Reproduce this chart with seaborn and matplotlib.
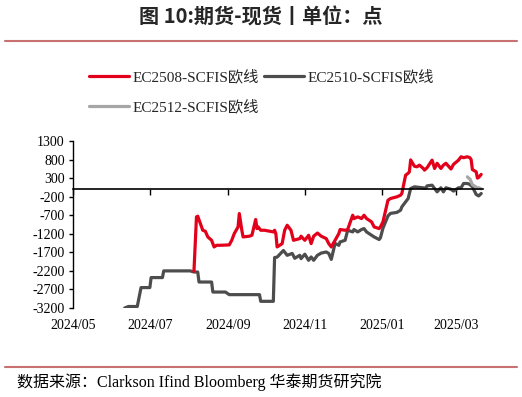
import matplotlib
matplotlib.use("Agg")
import matplotlib.pyplot as plt
import matplotlib.dates as mdates
from matplotlib.lines import Line2D
import pandas as pd
import seaborn as sns

# ---------------- data ----------------
s2510_dates = ["2024-06-11","2024-06-14","2024-06-21","2024-06-24","2024-07-01","2024-07-02",
               "2024-07-11","2024-07-12","2024-08-02","2024-08-05","2024-08-08","2024-08-09",
               "2024-08-19","2024-08-20","2024-08-30","2024-09-02","2024-09-26","2024-09-27",
               "2024-09-30","2024-10-07","2024-10-08","2024-10-10","2024-10-15","2024-10-18",
               "2024-10-22","2024-10-24","2024-10-28","2024-10-29","2024-11-01","2024-11-04",
               "2024-11-06","2024-11-08","2024-11-11","2024-11-14","2024-11-18","2024-11-20",
               "2024-11-22","2024-11-25","2024-11-28","2024-11-29","2024-12-03","2024-12-05",
               "2024-12-09","2024-12-10","2024-12-13","2024-12-16","2024-12-18","2024-12-20",
               "2024-12-24","2024-12-26","2024-12-30","2024-12-31","2025-01-02","2025-01-06",
               "2025-01-08","2025-01-13","2025-01-16","2025-01-17","2025-01-21","2025-01-22",
               "2025-01-24","2025-01-27","2025-02-05","2025-02-06","2025-02-10","2025-02-12",
               "2025-02-14","2025-02-17","2025-02-19","2025-02-21","2025-02-25","2025-02-27",
               "2025-03-03","2025-03-05","2025-03-07","2025-03-10","2025-03-12","2025-03-14",
               "2025-03-17","2025-03-19","2025-03-21"]
s2510_vals = [-3200,-3160,-3160,-2650,-2650,-2380,
              -2380,-2200,-2200,-2230,-2230,-2500,
              -2500,-2770,-2770,-2840,-2840,-3020,
              -3020,-3020,-1840,-1830,-1650,-1780,
              -1730,-1860,-1780,-1870,-1750,-1915,
              -1825,-1915,-1780,-1720,-1690,-1730,
              -1890,-1460,-1510,-1420,-1375,-1105,
              -1150,-1085,-1150,-1085,-1060,-1150,
              -1240,-1285,-1355,-1310,-1050,-720,
              -650,-625,-565,-475,-295,-250,
              20,65,30,90,110,20,
              -70,40,-70,40,0,-50,
              40,40,155,155,130,65,
              -140,-180,-115]

s2508_dates = ["2024-08-05","2024-08-07","2024-08-08","2024-08-12","2024-08-14","2024-08-16",
               "2024-08-19","2024-08-21","2024-08-23","2024-08-26","2024-09-02","2024-09-04",
               "2024-09-06","2024-09-09","2024-09-10","2024-09-12","2024-09-13","2024-09-18",
               "2024-09-20","2024-09-23","2024-09-24","2024-09-25","2024-09-27","2024-09-30",
               "2024-10-07","2024-10-08","2024-10-09","2024-10-10","2024-10-14","2024-10-15",
               "2024-10-16","2024-10-18","2024-10-21","2024-10-23","2024-10-28","2024-10-29",
               "2024-11-01","2024-11-04","2024-11-06","2024-11-08","2024-11-11","2024-11-14",
               "2024-11-18","2024-11-20","2024-11-22","2024-11-25","2024-11-28","2024-11-29",
               "2024-12-03","2024-12-05","2024-12-09","2024-12-10","2024-12-13","2024-12-16",
               "2024-12-18","2024-12-20","2024-12-24","2024-12-26","2024-12-30","2024-12-31",
               "2025-01-02","2025-01-06","2025-01-08","2025-01-13","2025-01-16","2025-01-17",
               "2025-01-20","2025-01-22","2025-01-23","2025-01-24","2025-01-27","2025-01-29",
               "2025-01-31","2025-02-03","2025-02-04","2025-02-06","2025-02-07","2025-02-10",
               "2025-02-12","2025-02-14","2025-02-17","2025-02-19","2025-02-21","2025-02-25",
               "2025-02-27","2025-03-03","2025-03-05","2025-03-07","2025-03-10","2025-03-12",
               "2025-03-13","2025-03-14","2025-03-17","2025-03-18","2025-03-19","2025-03-21"]
s2508_vals = [-2210,-745,-726,-1105,-1130,-1285,
              -1375,-1555,-1510,-1510,-1500,-1375,
              -1195,-1015,-655,-1105,-1285,-1265,
              -1240,-815,-1060,-1015,-1105,-1105,
              -1150,-1105,-1195,-1555,-1465,-1285,
              -1105,-970,-1105,-1375,-1330,-1265,
              -1375,-1240,-1465,-1265,-1180,-1265,
              -1330,-1465,-1555,-1375,-1195,-1085,
              -1105,-1085,-700,-790,-745,-790,
              -700,-790,-880,-1015,-1060,-1015,
              -880,-295,-250,-205,-160,-115,
              380,430,470,790,620,605,
              650,560,515,580,630,785,
              560,700,560,650,700,545,
              670,785,875,850,875,850,
              800,530,470,300,320,400]

s2512_dates = ["2025-03-10","2025-03-11","2025-03-12","2025-03-13","2025-03-14",
               "2025-03-17","2025-03-18","2025-03-19","2025-03-21"]
s2512_vals = [335,300,280,200,120,60,20,40,10]

labels = ["EC2508-SCFIS欧线", "EC2510-SCFIS欧线", "EC2512-SCFIS欧线"]
colors = ["#E2001A", "#4D4D4D", "#A6A6A6"]

yticks = list(range(-3200, 1301, 500))
xtick_dates = ["2024-05-01","2024-07-01","2024-09-01","2024-11-01","2025-01-01","2025-03-01"]
xtick_labels = ["2024/05","2024/07","2024/09","2024/11","2025/01","2025/03"]

# ---------------- style ----------------
sns.set_style("ticks")
plt.rcParams["font.family"] = ["Liberation Serif", "Noto Sans CJK SC"]
plt.rcParams["axes.unicode_minus"] = False

W, H = 522, 397
fig = plt.figure(figsize=(W/100, H/100), dpi=100)
ax = fig.add_axes([73/W, 1-308/H, 410/W, 167/H])

sns.lineplot(x=pd.to_datetime(s2510_dates), y=s2510_vals, ax=ax, color=colors[1],
             lw=2.3, label=labels[1], legend=False)
sns.lineplot(x=pd.to_datetime(s2508_dates), y=s2508_vals, ax=ax, color=colors[0],
             lw=2.3, label=labels[0], legend=False)
sns.lineplot(x=pd.to_datetime(s2512_dates), y=s2512_vals, ax=ax, color=colors[2],
             lw=2.3, label=labels[2], legend=False)

ax.set_xlabel("")
ax.set_ylabel("")
ax.set_ylim(-3200, 1300)
ax.set_yticks(yticks)
ax.set_yticklabels([str(v) for v in yticks])
ax.set_xlim(pd.Timestamp("2024-05-01"), pd.Timestamp("2025-03-22 10:00"))
ax.set_xticks(mdates.date2num(pd.to_datetime(xtick_dates)))

for s in ["top", "right"]:
    ax.spines[s].set_visible(False)
ax.spines["bottom"].set_position(("data", 0))
ax.spines["bottom"].set_color("black")
ax.spines["bottom"].set_linewidth(1.2)
ax.spines["left"].set_color("black")
ax.spines["left"].set_linewidth(1.0)
ax.tick_params(axis="x", direction="out", length=4, width=1, color="black",
               labelbottom=False, bottom=True)
ax.tick_params(axis="y", direction="out", length=3, width=1, color="black",
               labelsize=10, labelcolor="black", pad=3, left=True)

for d, lbl in zip(xtick_dates, xtick_labels):
    ax.text(mdates.date2num(pd.Timestamp(d)), -0.102, lbl, transform=ax.get_xaxis_transform(),
            ha="center", va="center", fontsize=10, color="black")

# legend
handles, labs = ax.get_legend_handles_labels()
hmap = dict(zip(labs, handles))
order = [labels[0], labels[2], labels[1]]
fig.legend([hmap[l] for l in order], order, loc="upper left",
           bbox_to_anchor=(89/W, 1-70/H), ncol=2, frameon=False, fontsize=11,
           handlelength=2.6, handletextpad=0.28, columnspacing=0.3,
           labelspacing=1.0, borderpad=0, borderaxespad=0)

# title & source
fig.text(0.5, 1-17/H, "图 10:期货-现货丨单位：点", ha="center", va="center",
         fontsize=14.5, fontweight="bold", family=["Noto Sans CJK SC", "DejaVu Sans"])
fig.add_artist(Line2D([5/W, 517/W], [1-40.7/H]*2, color="#C97070", lw=1.5,
                      transform=fig.transFigure))
fig.add_artist(Line2D([5/W, 517/W], [1-366.7/H]*2, color="#C97070", lw=1.5,
                      transform=fig.transFigure))
fig.text(17/W, 1-382/H, "数据来源：Clarkson Ifind Bloomberg 华泰期货研究院", ha="left",
         va="center", fontsize=11.5, color="black")

fig.savefig("out.png", dpi=100)
